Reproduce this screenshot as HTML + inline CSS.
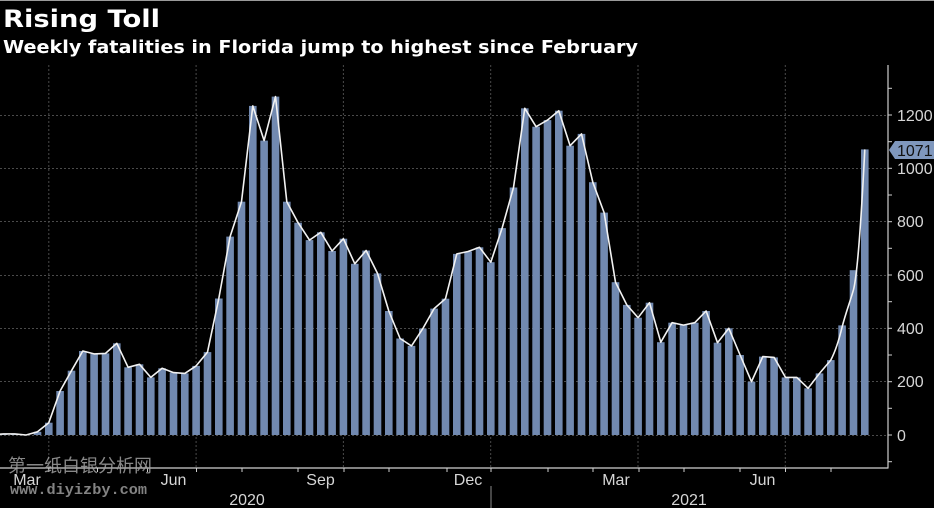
<!DOCTYPE html>
<html>
<head>
<meta charset="utf-8">
<style>
html,body{margin:0;padding:0;background:#000;}
svg{display:block;}
</style>
</head>
<body>
<svg width="934" height="508" viewBox="0 0 934 508" xmlns="http://www.w3.org/2000/svg">
<rect x="0" y="0" width="934" height="508" fill="#000"/>
<line x1="0" y1="0.5" x2="934" y2="0.5" stroke="#9a9a9a" stroke-width="1"/>

<text x="3" y="27" font-family="DejaVu Sans, Liberation Sans, sans-serif" font-weight="bold" font-size="24" fill="#fff" textLength="157" lengthAdjust="spacingAndGlyphs">Rising Toll</text>
<text x="3" y="53" font-family="DejaVu Sans, Liberation Sans, sans-serif" font-weight="bold" font-size="18" fill="#fff" textLength="635" lengthAdjust="spacingAndGlyphs">Weekly fatalities in Florida jump to highest since February</text>

<g stroke="#4a4a4a" stroke-width="1" stroke-dasharray="2 2">
<line x1="0" y1="115.5" x2="888" y2="115.5"/>
<line x1="0" y1="168.5" x2="888" y2="168.5"/>
<line x1="0" y1="221.5" x2="888" y2="221.5"/>
<line x1="0" y1="275.5" x2="888" y2="275.5"/>
<line x1="0" y1="328.5" x2="888" y2="328.5"/>
<line x1="0" y1="381.5" x2="888" y2="381.5"/>
<line x1="0" y1="435.5" x2="888" y2="435.5"/>
<line x1="48.8" y1="65" x2="48.8" y2="468"/>
<line x1="196.1" y1="65" x2="196.1" y2="468"/>
<line x1="343.4" y1="65" x2="343.4" y2="468"/>
<line x1="490.7" y1="65" x2="490.7" y2="468"/>
<line x1="638.0" y1="65" x2="638.0" y2="468"/>
<line x1="785.3" y1="65" x2="785.3" y2="468"/>
</g>

<g fill="#7189b0">
<rect x="-0.3" y="433.9" width="7.6" height="1.1"/>
<rect x="11.0" y="433.9" width="7.6" height="1.1"/>
<rect x="33.7" y="431.8" width="7.6" height="3.2"/>
<rect x="45.0" y="422.7" width="7.6" height="12.3"/>
<rect x="56.3" y="391.0" width="7.6" height="44.0"/>
<rect x="67.7" y="370.7" width="7.6" height="64.3"/>
<rect x="79.0" y="351.0" width="7.6" height="84.0"/>
<rect x="90.3" y="353.9" width="7.6" height="81.1"/>
<rect x="101.7" y="353.4" width="7.6" height="81.6"/>
<rect x="113.0" y="343.3" width="7.6" height="91.7"/>
<rect x="124.3" y="367.3" width="7.6" height="67.7"/>
<rect x="135.7" y="364.3" width="7.6" height="70.7"/>
<rect x="147.0" y="377.4" width="7.6" height="57.6"/>
<rect x="158.3" y="368.3" width="7.6" height="66.7"/>
<rect x="169.7" y="372.6" width="7.6" height="62.4"/>
<rect x="181.0" y="373.4" width="7.6" height="61.6"/>
<rect x="192.3" y="365.9" width="7.6" height="69.1"/>
<rect x="203.7" y="352.1" width="7.6" height="82.9"/>
<rect x="215.0" y="298.5" width="7.6" height="136.5"/>
<rect x="226.3" y="236.6" width="7.6" height="198.4"/>
<rect x="237.7" y="201.7" width="7.6" height="233.3"/>
<rect x="249.0" y="105.9" width="7.6" height="329.1"/>
<rect x="260.3" y="140.6" width="7.6" height="294.4"/>
<rect x="271.7" y="96.6" width="7.6" height="338.4"/>
<rect x="283.0" y="201.7" width="7.6" height="233.3"/>
<rect x="294.3" y="222.7" width="7.6" height="212.3"/>
<rect x="305.7" y="240.1" width="7.6" height="194.9"/>
<rect x="317.0" y="232.3" width="7.6" height="202.7"/>
<rect x="328.3" y="251.0" width="7.6" height="184.0"/>
<rect x="339.6" y="238.7" width="7.6" height="196.3"/>
<rect x="351.0" y="263.8" width="7.6" height="171.2"/>
<rect x="362.3" y="250.5" width="7.6" height="184.5"/>
<rect x="373.7" y="273.4" width="7.6" height="161.6"/>
<rect x="385.0" y="311.0" width="7.6" height="124.0"/>
<rect x="396.3" y="338.5" width="7.6" height="96.5"/>
<rect x="407.7" y="345.9" width="7.6" height="89.1"/>
<rect x="419.0" y="328.6" width="7.6" height="106.4"/>
<rect x="430.3" y="308.6" width="7.6" height="126.4"/>
<rect x="441.7" y="298.7" width="7.6" height="136.3"/>
<rect x="453.0" y="253.9" width="7.6" height="181.1"/>
<rect x="464.3" y="251.5" width="7.6" height="183.5"/>
<rect x="475.7" y="247.3" width="7.6" height="187.7"/>
<rect x="487.0" y="262.2" width="7.6" height="172.8"/>
<rect x="498.3" y="228.1" width="7.6" height="206.9"/>
<rect x="509.7" y="187.5" width="7.6" height="247.5"/>
<rect x="521.0" y="108.3" width="7.6" height="326.7"/>
<rect x="532.3" y="126.7" width="7.6" height="308.3"/>
<rect x="543.7" y="120.1" width="7.6" height="314.9"/>
<rect x="555.0" y="110.7" width="7.6" height="324.3"/>
<rect x="566.3" y="145.7" width="7.6" height="289.3"/>
<rect x="577.7" y="133.9" width="7.6" height="301.1"/>
<rect x="589.0" y="182.2" width="7.6" height="252.8"/>
<rect x="600.3" y="212.6" width="7.6" height="222.4"/>
<rect x="611.7" y="282.2" width="7.6" height="152.8"/>
<rect x="623.0" y="304.9" width="7.6" height="130.1"/>
<rect x="634.3" y="317.7" width="7.6" height="117.3"/>
<rect x="645.7" y="302.7" width="7.6" height="132.3"/>
<rect x="657.0" y="342.2" width="7.6" height="92.8"/>
<rect x="668.3" y="322.7" width="7.6" height="112.3"/>
<rect x="679.7" y="325.1" width="7.6" height="109.9"/>
<rect x="691.0" y="322.7" width="7.6" height="112.3"/>
<rect x="702.3" y="311.0" width="7.6" height="124.0"/>
<rect x="713.7" y="342.7" width="7.6" height="92.3"/>
<rect x="725.0" y="328.3" width="7.6" height="106.7"/>
<rect x="736.3" y="355.0" width="7.6" height="80.0"/>
<rect x="747.7" y="381.7" width="7.6" height="53.3"/>
<rect x="759.0" y="356.6" width="7.6" height="78.4"/>
<rect x="770.3" y="357.4" width="7.6" height="77.6"/>
<rect x="781.7" y="377.4" width="7.6" height="57.6"/>
<rect x="793.0" y="377.4" width="7.6" height="57.6"/>
<rect x="804.3" y="388.3" width="7.6" height="46.7"/>
<rect x="815.7" y="373.4" width="7.6" height="61.6"/>
<rect x="827.0" y="360.1" width="7.6" height="74.9"/>
<rect x="838.3" y="325.4" width="7.6" height="109.6"/>
<rect x="849.7" y="270.2" width="7.6" height="164.8"/>
<rect x="861.0" y="149.4" width="7.6" height="285.6"/>
</g>

<path fill="none" stroke="#f2f2f2" stroke-width="1.6" stroke-linejoin="round" d="M0,434.2 L3.5,433.9 L14.8,433.9 L26.1,435 L37.5,431.8 L48.8,422.7 L60.1,391.0 L71.5,370.7 L82.8,351.0 L94.1,353.9 L105.5,353.4 L116.8,343.3 L128.1,367.3 L139.5,364.3 L150.8,377.4 L162.1,368.3 L173.5,372.6 L184.8,373.4 L196.1,365.9 L207.5,352.1 L218.8,298.5 L230.1,236.6 L241.5,201.7 L252.8,105.9 L264.1,140.6 L275.5,96.6 L286.8,201.7 L298.1,222.7 L309.5,240.1 L320.8,232.3 L332.1,251.0 L343.4,238.7 L354.8,263.8 L366.1,250.5 L377.5,273.4 L388.8,311.0 L400.1,338.5 L411.5,345.9 L422.8,328.6 L434.1,308.6 L445.5,298.7 L456.8,253.9 L468.1,251.5 L479.5,247.3 L490.8,262.2 L502.1,228.1 L513.5,187.5 L524.8,108.3 L536.1,126.7 L547.5,120.1 L558.8,110.7 L570.1,145.7 L581.5,133.9 L592.8,182.2 L604.1,212.6 L615.5,282.2 L626.8,304.9 L638.1,317.7 L649.5,302.7 L660.8,342.2 L672.1,322.7 L683.5,325.1 L694.8,322.7 L706.1,311.0 L717.5,342.7 L728.8,328.3 L740.1,355.0 L751.5,381.7 L762.8,356.6 L774.1,357.4 L785.5,377.4 L796.8,377.4 L808.1,388.3 L819.5,373.4 L830.8,360.1 C835,352 839,340 842.1,327 C846,312 850,302 853.5,289.7 C857,276 861,225 864.8,149.4"/>

<g stroke="#cfcfcf" stroke-width="1.2">
<line x1="0" y1="468" x2="888.5" y2="468"/>
<line x1="888" y1="65" x2="888" y2="468"/>
</g>
<g stroke="#cfcfcf" stroke-width="1">
<line x1="48.8" y1="468" x2="48.8" y2="472"/>
<line x1="97.5" y1="468" x2="97.5" y2="472"/>
<line x1="147.5" y1="468" x2="147.5" y2="472"/>
<line x1="196.5" y1="468" x2="196.5" y2="472"/>
<line x1="242" y1="468" x2="242" y2="472"/>
<line x1="298" y1="468" x2="298" y2="472"/>
<line x1="344" y1="468" x2="344" y2="472"/>
<line x1="389" y1="468" x2="389" y2="472"/>
<line x1="447" y1="468" x2="447" y2="472"/>
<line x1="491" y1="468" x2="491" y2="472"/>
<line x1="548" y1="468" x2="548" y2="472"/>
<line x1="593" y1="468" x2="593" y2="472"/>
<line x1="639" y1="468" x2="639" y2="472"/>
<line x1="684" y1="468" x2="684" y2="472"/>
<line x1="740" y1="468" x2="740" y2="472"/>
<line x1="785.5" y1="468" x2="785.5" y2="472"/>
<line x1="831" y1="468" x2="831" y2="472"/>
<line x1="888" y1="88.3" x2="892" y2="88.3"/>
<line x1="888" y1="115" x2="892" y2="115"/>
<line x1="888" y1="141.7" x2="892" y2="141.7"/>
<line x1="888" y1="168.3" x2="892" y2="168.3"/>
<line x1="888" y1="195" x2="892" y2="195"/>
<line x1="888" y1="221.7" x2="892" y2="221.7"/>
<line x1="888" y1="248.3" x2="892" y2="248.3"/>
<line x1="888" y1="275" x2="892" y2="275"/>
<line x1="888" y1="301.7" x2="892" y2="301.7"/>
<line x1="888" y1="328.3" x2="892" y2="328.3"/>
<line x1="888" y1="355" x2="892" y2="355"/>
<line x1="888" y1="381.7" x2="892" y2="381.7"/>
<line x1="888" y1="408.3" x2="892" y2="408.3"/>
<line x1="888" y1="435" x2="892" y2="435"/>
<line x1="888" y1="461.7" x2="892" y2="461.7"/>
</g>
<line x1="491" y1="486" x2="491" y2="508" stroke="#8a8a8a" stroke-width="1"/>

<g font-family="Liberation Sans, Arial, sans-serif" font-size="16" fill="#d6d6d6">
<text x="897" y="121">1200</text>
<text x="897" y="174">1000</text>
<text x="897" y="227">800</text>
<text x="897" y="281">600</text>
<text x="897" y="334">400</text>
<text x="897" y="387">200</text>
<text x="897" y="441">0</text>
</g>

<polygon points="889,150 895,141 934,141 934,159 895,159" fill="#7f97bd"/>
<text x="897" y="156" font-family="Liberation Sans, Arial, sans-serif" font-size="16" fill="#111">1071</text>

<g font-family="Liberation Sans, Arial, sans-serif" font-size="16" fill="#d6d6d6" text-anchor="middle">
<text x="27" y="485">Mar</text>
<text x="173.5" y="485">Jun</text>
<text x="320.5" y="485">Sep</text>
<text x="468" y="485">Dec</text>
<text x="616" y="485">Mar</text>
<text x="762.5" y="485">Jun</text>
<text x="247" y="505">2020</text>
<text x="689" y="505">2021</text>
</g>

<text x="8" y="472" font-family="Liberation Sans, Noto Sans CJK SC, sans-serif" font-size="18" fill="#a0a0a0" fill-opacity="0.85" textLength="144" lengthAdjust="spacingAndGlyphs">第一纸白银分析网</text>
<text x="10" y="494" font-family="Liberation Mono, monospace" font-size="15" font-weight="bold" fill="#9a9a9a" fill-opacity="0.85" textLength="137" lengthAdjust="spacingAndGlyphs">www.diyizby.com</text>
</svg>
</body>
</html>
